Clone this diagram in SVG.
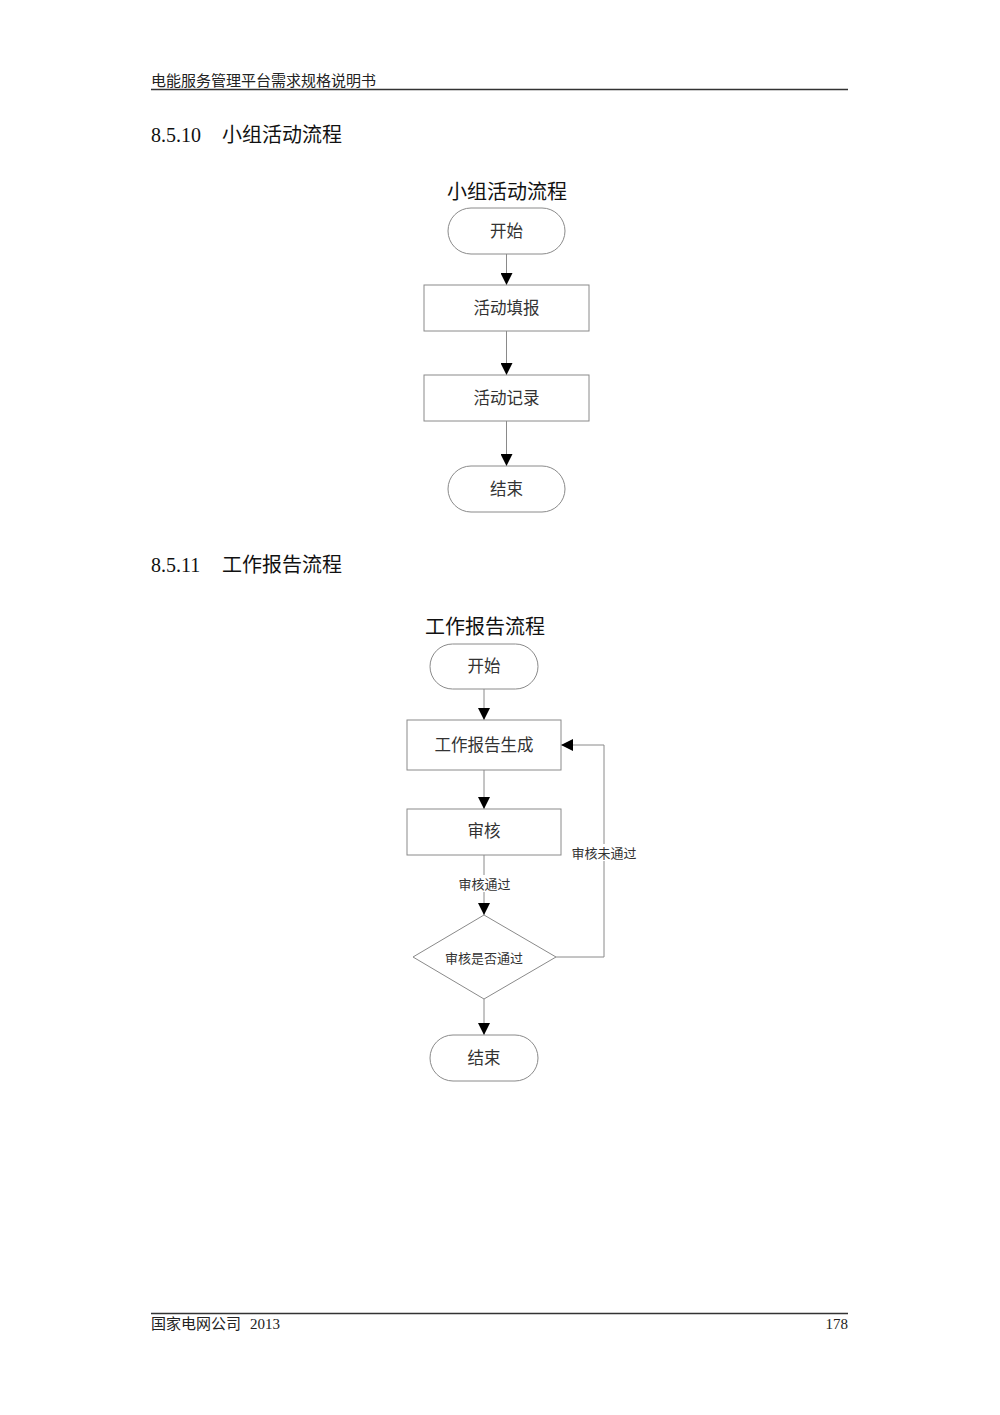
<svg xmlns="http://www.w3.org/2000/svg" width="1000" height="1415" viewBox="0 0 1000 1415">
<defs>
<style>
.hdr{font-family:"Liberation Serif","Noto Sans CJK SC",serif;font-size:15px;fill:#222}
.h2{font-family:"Liberation Serif","Noto Sans CJK SC",serif;font-size:20px;fill:#111}
.h2c{font-family:"Noto Sans CJK SC",sans-serif;font-size:20px;fill:#111}
.ttl{font-family:"Noto Sans CJK SC",sans-serif;font-size:20px;fill:#111;text-anchor:middle}
.shape{fill:#fff;stroke:#8a8a8a;stroke-width:1}
.lbl{font-family:"Noto Sans CJK SC",sans-serif;font-size:16.5px;fill:#333;text-anchor:middle;dominant-baseline:central}
.sm{font-family:"Noto Sans CJK SC",sans-serif;font-size:13px;fill:#333;text-anchor:middle;dominant-baseline:central}
.conn{fill:none;stroke:#8a8a8a;stroke-width:1}
.rule{stroke:#333;stroke-width:1.5}
</style>
<marker id="arr" markerUnits="userSpaceOnUse" markerWidth="12" markerHeight="12" viewBox="0 0 12 12" refX="12" refY="6" orient="auto">
<path d="M0,0 L12,6 L0,12 Z" fill="#000"/>
</marker>
</defs>
<rect width="1000" height="1415" fill="#fff"/>
<g id="header">
<text class="hdr" x="151" y="86">电能服务管理平台需求规格说明书</text>
<line class="rule" x1="151" y1="89.5" x2="848" y2="89.5"/>
</g>
<g id="heading1">
<text class="h2" x="151" y="142">8.5.10</text>
<text class="h2c" x="222" y="142">小组活动流程</text>
</g>
<g id="chart1">
<text class="ttl" x="507" y="199">小组活动流程</text>
<g id="c1-connectors">
<line class="conn" x1="506.5" y1="254" x2="506.5" y2="285" marker-end="url(#arr)"/>
<line class="conn" x1="506.5" y1="331" x2="506.5" y2="375" marker-end="url(#arr)"/>
<line class="conn" x1="506.5" y1="421" x2="506.5" y2="466" marker-end="url(#arr)"/>
</g>
<g id="c1-start"><rect class="shape" x="448" y="208" width="117" height="46" rx="23"/><text class="lbl" x="506.5" y="230">开始</text></g>
<g id="c1-fill"><rect class="shape" x="424" y="285" width="165" height="46"/><text class="lbl" x="506.5" y="307">活动填报</text></g>
<g id="c1-record"><rect class="shape" x="424" y="375" width="165" height="46"/><text class="lbl" x="506.5" y="397">活动记录</text></g>
<g id="c1-end"><rect class="shape" x="448" y="466" width="117" height="46" rx="23"/><text class="lbl" x="506.5" y="488">结束</text></g>
</g>
<g id="heading2">
<text class="h2" x="151" y="572">8.5.11</text>
<text class="h2c" x="222" y="572">工作报告流程</text>
</g>
<g id="chart2">
<text class="ttl" x="485" y="634">工作报告流程</text>
<g id="c2-connectors">
<line class="conn" x1="484" y1="689" x2="484" y2="720" marker-end="url(#arr)"/>
<line class="conn" x1="484" y1="770" x2="484" y2="809" marker-end="url(#arr)"/>
<line class="conn" x1="484" y1="855" x2="484" y2="915" marker-end="url(#arr)"/>
<line class="conn" x1="484" y1="999" x2="484" y2="1035" marker-end="url(#arr)"/>
<polyline class="conn" points="556,957 604,957 604,745 561,745" marker-end="url(#arr)"/>
<rect x="456" y="875" width="58" height="17" fill="#fff"/>
<text class="sm" x="484.5" y="883.5">审核通过</text>
<rect x="569" y="844" width="70" height="17" fill="#fff"/>
<text class="sm" x="604" y="852.5">审核未通过</text>
</g>
<g id="c2-start"><rect class="shape" x="430" y="644" width="108" height="45" rx="22.5"/><text class="lbl" x="484" y="665">开始</text></g>
<g id="c2-gen"><rect class="shape" x="407" y="720" width="154" height="50"/><text class="lbl" x="484" y="744">工作报告生成</text></g>
<g id="c2-review"><rect class="shape" x="407" y="809" width="154" height="46"/><text class="lbl" x="484" y="830">审核</text></g>
<g id="c2-decision"><polygon class="shape" points="484,915 556,957 484,999 413,957"/><text class="sm" x="484" y="957">审核是否通过</text></g>
<g id="c2-end"><rect class="shape" x="430" y="1035" width="108" height="46" rx="23"/><text class="lbl" x="484" y="1057">结束</text></g>
</g>
<g id="footer">
<line class="rule" x1="151" y1="1313.5" x2="848" y2="1313.5"/>
<text class="hdr" x="151" y="1329">国家电网公司</text>
<text class="hdr" x="250" y="1329">2013</text>
<text class="hdr" x="848" y="1329" text-anchor="end">178</text>
</g>
</svg>
